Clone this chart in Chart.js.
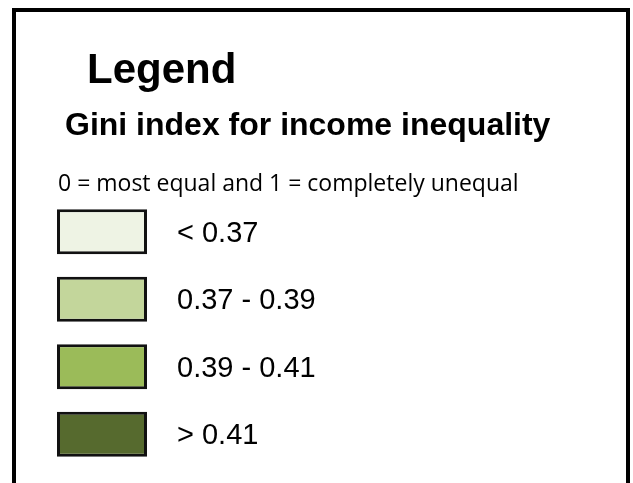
<!DOCTYPE html>
<html>
<head>
<meta charset="utf-8">
<script src="https://cdn.jsdelivr.net/npm/chart.js@4"></script>
<style>
  html, body { margin: 0; padding: 0; background: #fff; }
  #wrap { width: 633px; height: 483px; }
</style>
</head>
<body>
<div id="wrap"><canvas id="myChart"></canvas></div>
<script>
// legend classes
var classes = ['< 0.37', '0.37 - 0.39', '0.39 - 0.41', '> 0.41'];
var classColors = ['#eef3e4', '#c3d69b', '#9bbb59', '#566a2e'];
var heading = 'Legend';
var subHeading = 'Gini index for income inequality';
var note = '0 = most equal and 1 = completely unequal';

// frame + headings
var headings = {
    id: 'headings',
    afterDraw: function (c) {
        var ctx = c.ctx;
        ctx.save();
        ctx.strokeStyle = '#000';
        ctx.lineWidth = 4;
        ctx.strokeRect(14, 10, 614, 520);
        ctx.fillStyle = '#000';
        ctx.textBaseline = 'alphabetic';
        ctx.textAlign = 'left';
        ctx.font = 'bold 42px "Liberation Sans", Arial, sans-serif';
        ctx.fillText(heading, 87, 83);
        ctx.font = 'bold 32px "Liberation Sans", Arial, sans-serif';
        ctx.fillText(subHeading, 65, 135);
        ctx.font = '23px "Open Sans", sans-serif';
        ctx.fillText(note, 58, 191);
        ctx.restore();
    }
};

var chart = document.querySelector('#myChart');
var myChart = new Chart(chart, {
    type: 'bar',
    data: {
        labels: classes,
        datasets: [{
            data: classes.map(function () { return [0, 1]; }),
            backgroundColor: classColors,
            borderColor: '#111',
            borderWidth: 3,
            borderSkipped: false,
            barPercentage: 0.67,
            categoryPercentage: 1
        }]
    },
    options: {
        indexAxis: 'y',
        responsive: true,
        maintainAspectRatio: false,
        animation: false,
        layout: {
            padding: { top: 198, bottom: 15, left: 57, right: 0 }
        },
        scales: {
            x: { display: false, min: 0, max: 1 },
            y: {
                position: 'right',
                // gap between boxes and labels comes from tick length, not padding
                grid: { display: false, drawTicks: true, tickLength: 30 },
                border: { display: false },
                ticks: {
                    padding: 0,
                    labelOffset: 2,
                    color: '#000',
                    font: { family: '"Liberation Sans", Arial, sans-serif', size: 29, lineHeight: 1 }
                },
                afterFit: function (scale) { scale.width = 633 - 147; }
            }
        },
        plugins: {
            legend: { display: false },
            tooltip: { enabled: false }
        }
    },
    plugins: [headings]
});
</script>
</body>
</html>
